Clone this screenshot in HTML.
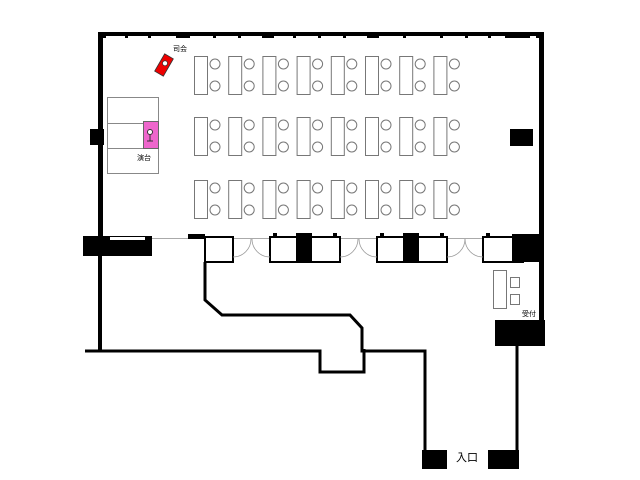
<!DOCTYPE html>
<html><head><meta charset="utf-8"><style>
html,body{margin:0;padding:0;background:#fff;width:640px;height:480px;overflow:hidden}
text{font-family:"Liberation Sans","Noto Sans CJK JP",sans-serif}
</style></head><body>
<svg width="640" height="480" viewBox="0 0 640 480" xmlns="http://www.w3.org/2000/svg">
<rect width="640" height="480" fill="#fff"/>
<!-- top wall -->
<rect x="98" y="32" width="446" height="4" fill="#000"/>
<g fill="#000">
<rect x="102" y="35" width="4" height="3"/><rect x="125" y="35" width="3" height="3"/><rect x="148" y="35" width="3" height="3"/>
<rect x="176" y="35" width="14" height="3"/><rect x="213" y="35" width="3" height="3"/><rect x="238" y="35" width="3" height="3"/>
<rect x="262" y="35" width="12" height="3"/><rect x="293" y="35" width="3" height="3"/><rect x="318" y="35" width="3" height="3"/>
<rect x="343" y="35" width="3" height="3"/><rect x="367" y="35" width="12" height="3"/><rect x="403" y="35" width="3" height="3"/>
<rect x="440" y="35" width="3" height="3"/><rect x="465" y="35" width="3" height="3"/><rect x="488" y="35" width="3" height="3"/>
<rect x="505" y="35" width="25" height="3"/><rect x="536" y="35" width="5" height="3"/>
</g>
<!-- left wall -->
<rect x="98" y="32" width="5" height="205" fill="#000"/>
<rect x="98" y="255" width="4" height="97" fill="#000"/>
<!-- right wall -->
<rect x="539" y="32" width="5" height="290" fill="#000"/>
<rect x="510" y="129" width="23" height="17" fill="#000"/>
<rect x="90" y="129" width="14" height="16" fill="#000"/>
<!-- stage -->
<g fill="none" stroke="#888" stroke-width="1">
<rect x="107.5" y="97.5" width="51" height="76"/>
<line x1="107" y1="123.5" x2="158" y2="123.5"/>
<line x1="107" y1="148.5" x2="158" y2="148.5"/>
</g>
<rect x="143.5" y="121.5" width="15" height="27" fill="#ee66cc" stroke="#666"/>
<circle cx="150" cy="132" r="2.5" fill="#fff" stroke="#333"/>
<line x1="150" y1="134" x2="150" y2="141" stroke="#333"/>
<line x1="147" y1="141" x2="153" y2="141" stroke="#333"/>
<text x="137" y="160" font-size="7">演台</text>
<!-- MC -->
<g transform="translate(164,65) rotate(30)">
<rect x="-5" y="-10" width="10" height="20" fill="#ee0000" stroke="#333" stroke-width="0.8"/>
<circle cx="0" cy="-2" r="2.5" fill="#fff" stroke="#333" stroke-width="0.7"/>
</g>
<text x="173" y="51" font-size="7">司会</text>
<!-- tables -->
<g fill="#fff" stroke="#777" stroke-width="1">
<g id="col">
<rect x="194.5" y="56.5" width="13" height="38"/><circle cx="215" cy="64" r="5"/><circle cx="215" cy="86" r="5"/>
<rect x="194.5" y="117.5" width="13" height="38"/><circle cx="215" cy="125" r="5"/><circle cx="215" cy="147" r="5"/>
<rect x="194.5" y="180.5" width="13" height="38"/><circle cx="215" cy="188" r="5"/><circle cx="215" cy="210" r="5"/>
</g>
<use href="#col" x="34.2"/><use href="#col" x="68.4"/><use href="#col" x="102.6"/><use href="#col" x="136.8"/>
<use href="#col" x="171"/><use href="#col" x="205.2"/><use href="#col" x="239.4"/>
</g>
<!-- door strip -->
<line x1="103" y1="238.5" x2="540" y2="238.5" stroke="#aaa" stroke-width="1"/>
<rect x="83" y="236" width="69" height="20" fill="#000"/>
<rect x="110" y="237" width="35" height="3" fill="#fff"/>
<rect x="188" y="234" width="17" height="5" fill="#000"/>
<g fill="#fff" stroke="#000" stroke-width="2">
<rect x="205" y="237" width="28" height="25"/>
<rect x="270" y="237" width="70" height="25"/>
<rect x="377" y="237" width="70" height="25"/>
<rect x="483" y="237" width="40" height="25"/>
</g>
<g fill="#000">
<rect x="296" y="233" width="16" height="29"/>
<rect x="403" y="233" width="16" height="29"/>
<rect x="512" y="234" width="32" height="28"/>
<rect x="273" y="233" width="4" height="4"/><rect x="333" y="233" width="4" height="4"/>
<rect x="380" y="233" width="4" height="4"/><rect x="440" y="233" width="4" height="4"/>
<rect x="486" y="233" width="4" height="4"/>
</g>
<g fill="none" stroke="#999" stroke-width="0.8">
<path d="M233,257 A18,18 0 0 0 251,239"/><path d="M270,257 A18,18 0 0 1 252,239"/>
<path d="M340,257 A18,18 0 0 0 358,239"/><path d="M377,257 A18,18 0 0 1 359,239"/>
<path d="M447,257 A18,18 0 0 0 465,239"/><path d="M483,257 A18,18 0 0 1 465,239"/>
</g>
<!-- corridor -->
<polyline points="205,262 205,300 222,315 350,315 362,328 362,351 425,351 425,452" fill="none" stroke="#000" stroke-width="3"/>
<polyline points="85,351 320,351 320,372 364,372 364,349" fill="none" stroke="#000" stroke-width="3"/>
<rect x="495" y="320" width="50" height="26" fill="#000"/>
<line x1="517" y1="346" x2="517" y2="452" stroke="#000" stroke-width="3"/>
<rect x="422" y="450" width="25" height="19" fill="#000"/>
<rect x="488" y="450" width="31" height="19" fill="#000"/>
<text x="456" y="461" font-size="11">入口</text>
<!-- reception -->
<g fill="#fff" stroke="#777" stroke-width="1">
<rect x="493.5" y="270.5" width="13" height="38"/>
<rect x="510.5" y="277.5" width="9" height="10"/>
<rect x="510.5" y="294.5" width="9" height="10"/>
</g>
<text x="522" y="316" font-size="7">受付</text>
</svg>
</body></html>
